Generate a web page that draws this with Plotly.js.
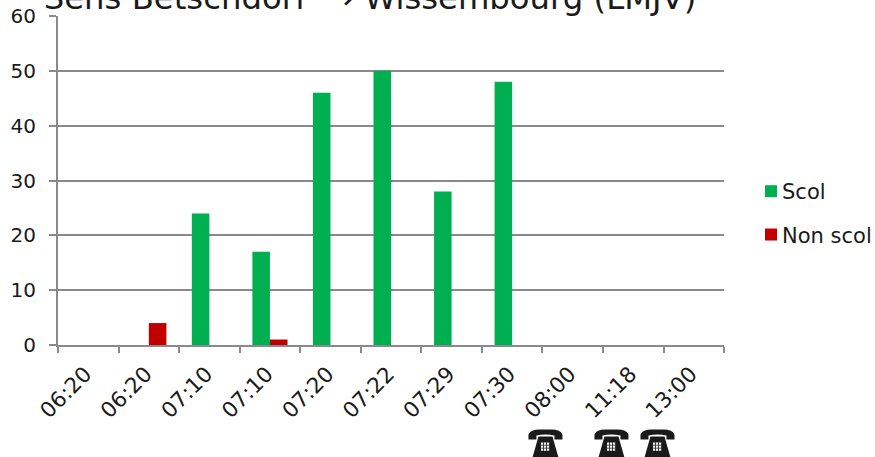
<!DOCTYPE html>
<html><head><meta charset="utf-8">
<script src="https://cdn.plot.ly/plotly-3.0.1.min.js"></script>
<style>html,body{margin:0;padding:0;background:#fff}</style></head>
<body><div id="chart" style="width:875px;height:457px"></div>
<script>
const categories = ["06:20","06:20","07:10","07:10","07:20","07:22","07:29","07:30","08:00","11:18","13:00"];
const scol = [0,0,24,17,46,50,28,48,0,0,0];
const nonScol = [0,4,0,1,0,0,0,0,0,0,0];
const phonePositions = [7.55,8.64,9.4];
const idx = categories.map((c,i)=>i);
const boundaries = [-0.5,0.5,1.5,2.5,3.5,4.5,5.5,6.5,7.5,8.5,9.5,10.5];
const axisColor = "#8a8a8a";
const textColor = "#1a1a1a";
const font = "DejaVu Sans, Verdana, sans-serif";
const dom = [0,666.5/817.5];
const phoneBody = "M-17,4 L-17,9 Q-15,14 -6,14 L6,14 Q15,14 17,9 L17,4 L9,4 L9,8 Q0,10 -9,8 L-9,4 Z M-7,7 L7,7 L13,-14 L-13,-14 Z";
let keypad = "";
[-4.5,-1.5,1.5].forEach(x=>[1,-2,-5].forEach(y=>{
  keypad += `M${x},${y} L${x+2.2},${y} L${x+2.2},${y-2.2} L${x},${y-2.2} Z `;
}));
const phoneShape = (p,path,color)=>({type:"path",xref:"x",yref:"paper",xsizemode:"pixel",ysizemode:"pixel",
  xanchor:p,yanchor:-0.2994,path:path,fillcolor:color,line:{width:0},layer:"above"});
const data = [
 {type:"bar",name:"Scol",legendgroup:"a",x:idx,y:scol,marker:{color:"#00B050"},xaxis:"x",yaxis:"y"},
 {type:"bar",name:"Non scol",legendgroup:"b",x:idx,y:nonScol,marker:{color:"#C00000"},xaxis:"x",yaxis:"y"},
 {type:"scatter",mode:"markers",x:idx,y:idx.map(()=>0),xaxis:"x2",yaxis:"y",marker:{opacity:0},showlegend:false,hoverinfo:"skip"}
];
const layout = {
 width:875,height:457,autosize:false,
 margin:{l:57.5,r:0,t:16,b:112},
 paper_bgcolor:"#fff",plot_bgcolor:"#fff",
 font:{family:font,size:20,color:textColor},
 barmode:"group",bargap:0.42,bargroupgap:0,
 title:{text:"Sens Betschdorf  → Wissembourg (LMJV)",font:{size:32.3,color:textColor,family:font},
   x:370/875,xanchor:"center",y:0.981,yanchor:"bottom"},
 xaxis:{domain:dom,range:[-0.5,10.5],tickmode:"array",tickvals:boundaries,ticktext:boundaries.map(()=>""),
   ticks:"outside",ticklen:6,tickcolor:axisColor,tickwidth:2,showgrid:false,zeroline:false,
   showline:true,linecolor:axisColor,linewidth:2,automargin:false},
 xaxis2:{domain:dom,range:[-0.45,10.55],overlaying:"x",side:"bottom",tickmode:"array",tickvals:idx,ticktext:categories,
   tickangle:-45,ticks:"outside",ticklen:7,tickcolor:"rgba(0,0,0,0)",showgrid:false,zeroline:false,showline:false,
   automargin:false,tickfont:{size:21.5,color:textColor,family:font}},
 yaxis:{range:[0,60],tickmode:"array",tickvals:[0,10,20,30,40,50,60],ticks:"outside",ticklen:7,
   tickcolor:axisColor,tickwidth:2,gridcolor:axisColor,gridwidth:2,zeroline:false,
   showline:true,linecolor:axisColor,linewidth:2,automargin:false,ticklabelstandoff:9,
   tickfont:{size:20,color:textColor,family:font}},
 legend:{x:(700-57.5)/817.5,xanchor:"left",y:0.401,yanchor:"middle",font:{size:21,color:textColor,family:font},
   tracegroupgap:13,itemwidth:30,bgcolor:"rgba(0,0,0,0)",traceorder:"grouped"},
 shapes:phonePositions.flatMap(p=>[phoneShape(p,phoneBody,"#1a1a1a"),phoneShape(p,keypad,"#ffffff")])
};
Plotly.newPlot("chart",data,layout,{displayModeBar:false,staticPlot:true}).then(()=>{
 document.querySelectorAll(".legendtext").forEach(t=>t.setAttribute("x",+t.getAttribute("x")-9));
 const lg=document.querySelector(".legend");
 const m=/translate\(([-\d.]+),\s*([-\d.]+)\)/.exec(lg.getAttribute("transform"));
 lg.setAttribute("transform",`translate(751,${m[2]})`);
});
</script></body></html>
